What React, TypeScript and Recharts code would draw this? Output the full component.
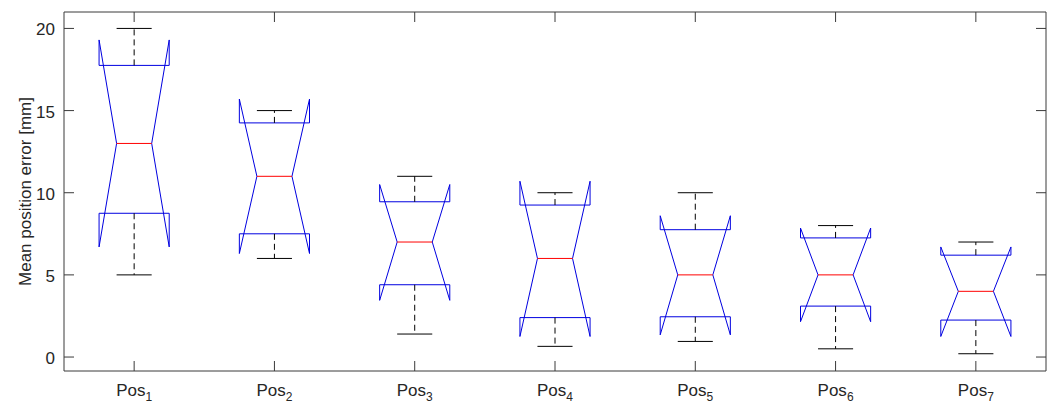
import React from "react";
import { ComposedChart, Scatter, XAxis, YAxis } from "recharts";

// (mm)
const positions = ["1", "2", "3", "4", "5", "6", "7"];
const whiskerHi = [20, 15, 11, 10, 10, 8, 7];
const q3 = [17.75, 14.25, 9.45, 9.25, 7.75, 7.25, 6.2];
const median = [13, 11, 7, 6, 5, 5, 4];
const q1 = [8.75, 7.5, 4.4, 2.4, 2.45, 3.1, 2.25];
const whiskerLo = [5, 6, 1.4, 0.65, 0.95, 0.5, 0.2];
const notchHi = [19.3, 15.7, 10.5, 10.7, 8.6, 7.85, 6.7];
const notchLo = [6.7, 6.3, 3.45, 1.25, 1.35, 2.15, 1.25];
const yTicks = [0, 5, 10, 15, 20];

const FONT = "'Liberation Sans', Arial, Helvetica, sans-serif";
const AXIS = "#3a3a3a";
const TEXT = "#262626";
const HW = 0.25; // half box width (x units)
const NW = 0.125; // half width at the notch

type Pt = { x: number; y: number };
type Seg = { key: string; pts: Pt[]; stroke: string; dash?: string };

const segments: Seg[] = [];
positions.forEach((_, i) => {
  const c = i + 1;
  segments.push({
    key: `box${i}`,
    stroke: "#0000e0",
    pts: [
      { x: c - HW, y: q1[i] },
      { x: c - HW, y: notchLo[i] },
      { x: c - NW, y: median[i] },
      { x: c - HW, y: notchHi[i] },
      { x: c - HW, y: q3[i] },
      { x: c + HW, y: q3[i] },
      { x: c + HW, y: notchHi[i] },
      { x: c + NW, y: median[i] },
      { x: c + HW, y: notchLo[i] },
      { x: c + HW, y: q1[i] },
      { x: c - HW, y: q1[i] },
    ],
  });
  segments.push({
    key: `med${i}`,
    stroke: "#ff0000",
    pts: [
      { x: c - NW, y: median[i] },
      { x: c + NW, y: median[i] },
    ],
  });
  segments.push({
    key: `wu${i}`,
    stroke: "#000000",
    dash: "6 4",
    pts: [
      { x: c, y: q3[i] },
      { x: c, y: whiskerHi[i] },
    ],
  });
  segments.push({
    key: `wl${i}`,
    stroke: "#000000",
    dash: "6 4",
    pts: [
      { x: c, y: q1[i] },
      { x: c, y: whiskerLo[i] },
    ],
  });
  segments.push({
    key: `cu${i}`,
    stroke: "#000000",
    pts: [
      { x: c - NW, y: whiskerHi[i] },
      { x: c + NW, y: whiskerHi[i] },
    ],
  });
  segments.push({
    key: `cl${i}`,
    stroke: "#000000",
    pts: [
      { x: c - NW, y: whiskerLo[i] },
      { x: c + NW, y: whiskerLo[i] },
    ],
  });
});

// invisible points so the top/right frame axes get drawn
const medianPts: Pt[] = positions.map((_, i) => ({ x: i + 1, y: median[i] }));

const BottomTick = (props: any) => {
  const { x, y, payload } = props;
  const lab = positions[payload.value - 1];
  return (
    <g>
      <line x1={x} y1={y} x2={x} y2={y - 10} stroke={AXIS} />
      <text x={x} y={y + 25} textAnchor="middle" fontFamily={FONT} fontSize={17} fill={TEXT}>
        Pos
        <tspan fontSize={12} dy={5}>
          {lab}
        </tspan>
      </text>
    </g>
  );
};

const TopTick = (props: any) => {
  const { x, y } = props;
  return <line x1={x} y1={y} x2={x} y2={y + 10} stroke={AXIS} />;
};

const LeftTick = (props: any) => {
  const { x, y, payload } = props;
  return (
    <g>
      <line x1={x} y1={y} x2={x + 10} y2={y} stroke={AXIS} />
      <text x={x - 9} y={y + 7} textAnchor="end" fontFamily={FONT} fontSize={17} fill={TEXT}>
        {payload.value}
      </text>
    </g>
  );
};

const RightTick = (props: any) => {
  const { x, y } = props;
  return <line x1={x} y1={y} x2={x - 10} y2={y} stroke={AXIS} />;
};

const YLabel = (props: any) => {
  const { viewBox } = props;
  const cx = viewBox.x + viewBox.width - 39;
  const cy = viewBox.y + viewBox.height / 2;
  return (
    <text
      x={cx}
      y={cy}
      transform={`rotate(-90 ${cx} ${cy})`}
      textAnchor="middle"
      dominantBaseline="central"
      fontFamily={FONT}
      fontSize={17}
      fill={TEXT}
    >
      Mean position error [mm]
    </text>
  );
};

const noDot = () => <g />;

export default function App() {
  const xTicks = positions.map((_, i) => i + 1);
  return (
    <div style={{ position: "absolute", left: 0, top: 0, background: "#fff" }}>
      <ComposedChart width={1051} height={403} margin={{ top: 11, right: 4, bottom: 0, left: 0 }}>
        <XAxis
          xAxisId="b"
          dataKey="x"
          type="number"
          domain={[0.5, 7.5]}
          ticks={xTicks}
          allowDataOverflow
          height={32}
          stroke={AXIS}
          tickLine={false}
          tickSize={0}
          tickMargin={0}
          tick={BottomTick}
        />
        <XAxis
          xAxisId="t"
          orientation="top"
          dataKey="x"
          type="number"
          domain={[0.5, 7.5]}
          ticks={xTicks}
          allowDataOverflow
          height={1}
          stroke={AXIS}
          tickLine={false}
          tickSize={0}
          tickMargin={0}
          tick={TopTick}
        />
        <YAxis
          yAxisId="l"
          dataKey="y"
          type="number"
          domain={[-0.85, 21]}
          ticks={yTicks}
          allowDataOverflow
          width={64}
          stroke={AXIS}
          tickLine={false}
          tickSize={0}
          tickMargin={0}
          tick={LeftTick}
          label={<YLabel />}
        />
        <YAxis
          yAxisId="r"
          orientation="right"
          dataKey="y"
          type="number"
          domain={[-0.85, 21]}
          ticks={yTicks}
          allowDataOverflow
          width={1}
          stroke={AXIS}
          tickLine={false}
          tickSize={0}
          tickMargin={0}
          tick={RightTick}
        />
        <Scatter
          xAxisId="t"
          yAxisId="r"
          data={medianPts}
          shape={noDot}
          legendType="none"
          isAnimationActive={false}
        />
        {segments.map((s) => (
          <Scatter
            key={s.key}
            xAxisId="b"
            yAxisId="l"
            data={s.pts}
            line={{ stroke: s.stroke, strokeWidth: 1, strokeDasharray: s.dash }}
            lineJointType="linear"
            shape={noDot}
            legendType="none"
            isAnimationActive={false}
          />
        ))}
      </ComposedChart>
    </div>
  );
}
